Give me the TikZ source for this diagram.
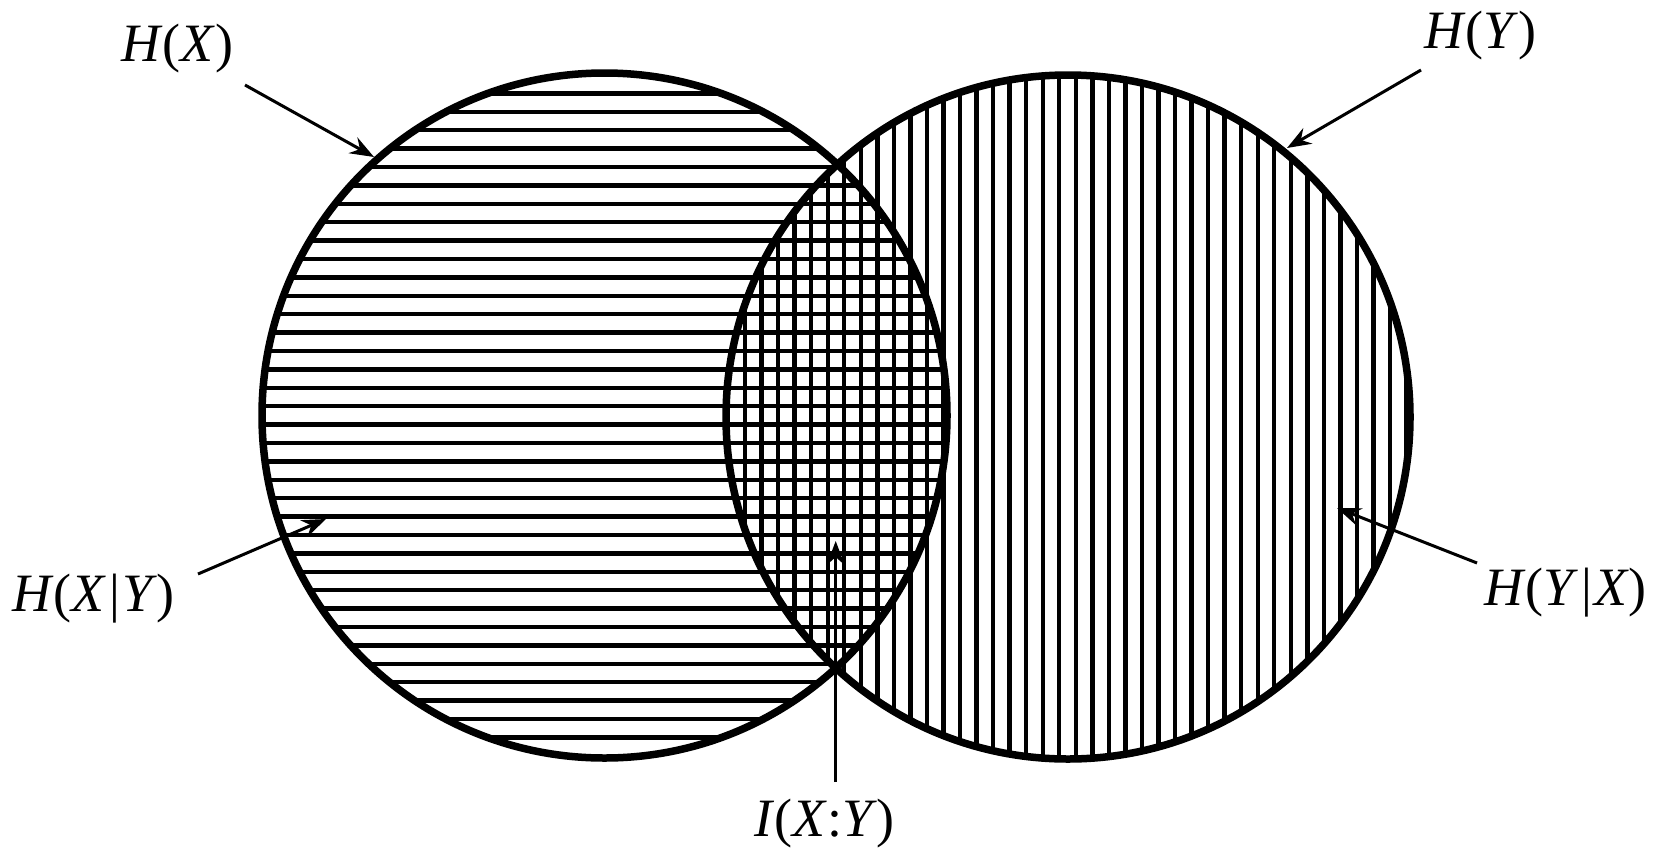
\documentclass[tikz,border=0pt]{standalone}
\usepackage{fontspec}
\setmainfont{Liberation Serif}
\usetikzlibrary{arrows.meta}
\tikzset{
  ring/.style={draw=black, line width=7.5pt},
  hatch/.style={draw=black, line width=4.4pt},
  pointer/.style={draw=black, line width=3pt, -{Stealth[length=24pt,width=18pt,inset=8pt]}},
  lbl/.style={inner sep=0pt, font=\fontsize{54}{60}\selectfont},
}
\begin{document}
\begin{tikzpicture}[x=1pt,y=-1pt]
\useasboundingbox (0,0) rectangle (1664,849);
% hatching
\begin{scope}
  \clip (604.5,415.5) circle [radius=342.5pt];
  \foreach \k in {0,...,35} {
    \draw[hatch] (250,{93.3+18.4*\k}) -- (960,{93.3+18.4*\k});
  }
\end{scope}
\begin{scope}
  \clip (1068,417) circle [radius=342pt];
  \foreach \k in {0,...,40} {
    \draw[hatch] ({745+16.54*\k},60) -- ({745+16.54*\k},780);
  }
\end{scope}
% circles
\node[ring, circle, minimum size=685pt, inner sep=0pt] (L) at (604.5,415.5) {};
\node[ring, circle, minimum size=684pt, inner sep=0pt] (R) at (1068,417) {};
% labels
\node[lbl, anchor=base west] (hx) at (121,61) {\textit{H}(\textit{X})};
\node[lbl, anchor=base west] (hy) at (1424,48) {\textit{H}(\textit{Y})};
\node[lbl, anchor=base west] (hxy) at (12,611) {\textit{H}(\textit{X}\kern3pt|\kern2pt\textit{Y})};
\node[lbl, anchor=base west] (hyx) at (1484,605) {\textit{H}(\textit{Y}\kern3pt|\kern2pt\textit{X})};
\node[lbl, anchor=base west] (ixy) at (754,836) {\textit{I}(\textit{X}:\textit{Y})};
% arrow endpoints
\coordinate (a1) at (245,85);   \coordinate (b1) at (374,157);
\coordinate (a2) at (1421,70);  \coordinate (b2) at (1287,148);
\coordinate (a3) at (198,574);  \coordinate (b3) at (326,519);
\coordinate (a4) at (1477,563); \coordinate (b4) at (1337,508);
\coordinate (a5) at (835.7,782); \coordinate (b5) at (835.7,541);
\draw[pointer] (a1) -- (b1);
\draw[pointer] (a2) -- (b2);
\draw[pointer] (a3) -- (b3);
\draw[pointer] (a4) -- (b4);
\draw[pointer] (a5) -- (b5);
\end{tikzpicture}
\end{document}
